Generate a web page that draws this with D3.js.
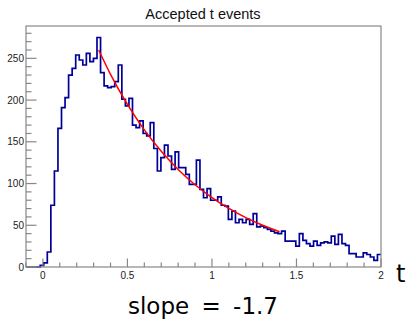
<!DOCTYPE html>
<html>
<head>
<meta charset="utf-8">
<script src="https://cdn.jsdelivr.net/npm/d3@7"></script>
<style>
  html, body { margin: 0; padding: 0; background: #fff; }
  svg { display: block; }
</style>
</head>
<body>
<script>
// ---------- data ----------
const chartTitle = "Accepted t events";
const xAxisTitle = "t";
const fitLabel = "slope = -1.7";
const histRange = [-0.1, 2.0];
const yMaxValue = 288.75;
// bin contents (100 bins over histRange)
const binCounts = [
  0, 0, 0, 0, 2, 5, 18, 74, 115, 166,
  191, 203, 230, 238, 254, 248, 242, 256, 246, 250,
  275, 233, 217, 215, 216, 222, 242, 201, 193, 202,
  170, 167, 175, 160, 157, 173, 142, 115, 131, 146,
  133, 117, 138, 119, 119, 111, 99, 99, 128, 93,
  83, 94, 80, 80, 84, 74, 73, 57, 67, 53,
  57, 53, 57, 51, 64, 48, 49, 47, 45, 43,
  41, 40, 43, 31, 31, 31, 25, 40, 32, 28,
  25, 31, 26, 29, 30, 29, 37, 27, 39, 28,
  26, 16, 16, 12, 12, 17, 15, 12, 8, 15
];
// fit curve points
const fitT = [0.33, 0.4, 0.5, 0.6, 0.7, 0.8, 0.9, 1.0, 1.1, 1.2, 1.3, 1.4];
const fitY = [260, 230.8, 194.8, 164.3, 138.6, 116.9, 98.6, 83.2, 70.2, 59.2, 50.0, 42.2];
const xMajorTicks = [0, 0.5, 1, 1.5, 2];
const xMajorLabels = ["0", "0.5", "1", "1.5", "2"];
const xMinorTicks = [-0.1, 0.1, 0.2, 0.3, 0.4, 0.6, 0.7, 0.8, 0.9, 1.1, 1.2, 1.3, 1.4, 1.6, 1.7, 1.8, 1.9];
const yMajorTicks = [0, 50, 100, 150, 200, 250];
const yMajorLabels = ["0", "50", "100", "150", "200", "250"];
const yMinorTicks = [10, 20, 30, 40, 60, 70, 80, 90, 110, 120, 130, 140, 160, 170, 180, 190, 210, 220, 230, 240, 260, 270, 280];

// ---------- layout ----------
const W = 408, H = 322;
const frame = { left: 26, right: 381, top: 26, bottom: 267 };

const svg = d3.select("body").append("svg").attr("width", W).attr("height", H);
svg.append("rect").attr("width", W).attr("height", H).attr("fill", "#fff");

const x = d3.scaleLinear().domain(histRange).range([frame.left, frame.right]);
const y = d3.scaleLinear().domain([0, yMaxValue]).range([frame.bottom, frame.top]);

const nBins = binCounts.length;
const binW = (histRange[1] - histRange[0]) / nBins;
const stepPts = binCounts.map((v, i) => [histRange[0] + i * binW, v]);
stepPts.push([histRange[1], binCounts[nBins - 1]]);

// histogram
const histLine = d3.line().x(d => x(d[0])).y(d => y(d[1])).curve(d3.curveStepAfter);
svg.append("path").datum(stepPts)
  .attr("d", histLine)
  .attr("fill", "none")
  .attr("stroke", "#000099")
  .attr("stroke-width", 1.7);

// fit
const fitPts = fitT.map((t, i) => [t, fitY[i]]);
svg.append("path").datum(fitPts)
  .attr("d", d3.line().x(d => x(d[0])).y(d => y(d[1])).curve(d3.curveMonotoneX))
  .attr("fill", "none")
  .attr("stroke", "#ff0000")
  .attr("stroke-width", 1.5);

// frame
const axisColor = "#888";
svg.append("rect")
  .attr("x", frame.left).attr("y", frame.top)
  .attr("width", frame.right - frame.left).attr("height", frame.bottom - frame.top)
  .attr("fill", "none").attr("stroke", axisColor).attr("stroke-width", 1.2);

// y axis ticks (inside)
const gy = svg.append("g");
gy.selectAll("line.maj").data(yMajorTicks).enter().append("line")
  .attr("x1", frame.left).attr("x2", frame.left + 10.5)
  .attr("y1", d => y(d)).attr("y2", d => y(d))
  .attr("stroke", axisColor).attr("stroke-width", 1.2);
gy.selectAll("line.min").data(yMinorTicks).enter().append("line")
  .attr("x1", frame.left).attr("x2", frame.left + 5.5)
  .attr("y1", d => y(d)).attr("y2", d => y(d))
  .attr("stroke", axisColor).attr("stroke-width", 1.2);
gy.selectAll("text").data(yMajorTicks).enter().append("text")
  .attr("x", frame.left - 2).attr("y", d => y(d) + 3.6)
  .attr("text-anchor", "end")
  .attr("font-family", "Liberation Sans, Arial, sans-serif")
  .attr("font-size", 10).attr("fill", "#222")
  .text((d, i) => yMajorLabels[i]);

// x axis ticks (inside)
const gx = svg.append("g");
gx.selectAll("line.maj").data(xMajorTicks).enter().append("line")
  .attr("x1", d => x(d)).attr("x2", d => x(d))
  .attr("y1", frame.bottom).attr("y2", frame.bottom - 8.5)
  .attr("stroke", axisColor).attr("stroke-width", 1.2);
gx.selectAll("line.min").data(xMinorTicks).enter().append("line")
  .attr("x1", d => x(d)).attr("x2", d => x(d))
  .attr("y1", frame.bottom).attr("y2", frame.bottom - 4.5)
  .attr("stroke", axisColor).attr("stroke-width", 1.2);
gx.selectAll("text").data(xMajorTicks).enter().append("text")
  .attr("x", d => x(d)).attr("y", 278.7)
  .attr("text-anchor", "middle")
  .attr("font-family", "Liberation Sans, Arial, sans-serif")
  .attr("font-size", 10).attr("fill", "#222")
  .text((d, i) => xMajorLabels[i]);

// title
svg.append("text")
  .attr("x", 203).attr("y", 19)
  .attr("text-anchor", "middle")
  .attr("font-family", "Liberation Sans, Arial, sans-serif")
  .attr("font-size", 14.5).attr("fill", "#111")
  .text(chartTitle);

// x axis title
svg.append("text")
  .attr("x", 396).attr("y", 282)
  .attr("font-family", "DejaVu Sans, sans-serif")
  .attr("font-size", 24).attr("fill", "#000")
  .text(xAxisTitle);

// fit label
svg.append("text")
  .attr("x", 128).attr("y", 314)
  .attr("font-family", "DejaVu Sans, sans-serif")
  .attr("font-size", 23).attr("fill", "#000")
  .attr("word-spacing", 5)
  .text(fitLabel);
</script>
</body>
</html>
